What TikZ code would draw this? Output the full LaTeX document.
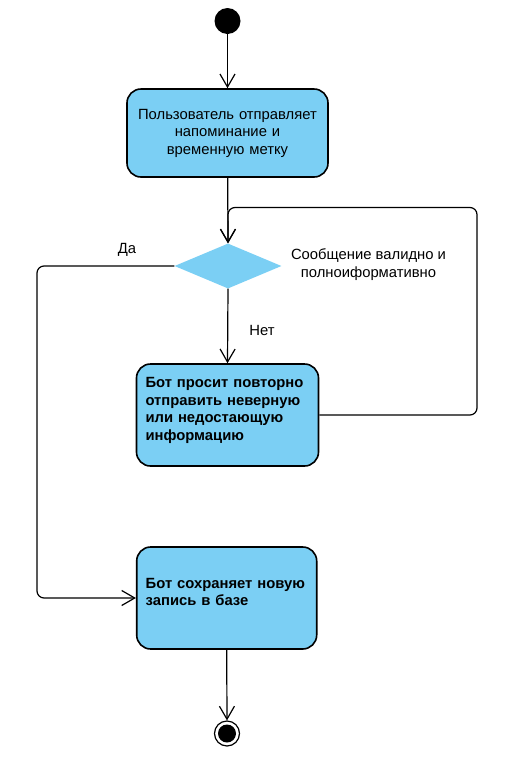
\documentclass[tikz,border=0pt]{standalone}
\usepackage{fontspec}
\setmainfont{Liberation Sans}
\usepackage{tikz}
\usetikzlibrary{calc,arrows.meta,shapes.geometric}
\definecolor{actblue}{HTML}{7BCFF4}

\begin{document}
\begin{tikzpicture}[x=1pt,y=-1pt,
	    txt/.style={font=\fontsize{14.8}{17.5}\selectfont},
	    act/.style={txt,draw,line width=1.6pt,fill=actblue,rounded corners=14pt},
	    flow/.style={line width=1.2pt,-{Straight Barb[length=13pt,width=15pt]}}]
	    \useasboundingbox (0,0) rectangle (504,764);
	    \node[circle,fill=black,minimum size=26pt,inner sep=0pt] (start) at (227.5,21) {}; % initial state
	    \node[act,minimum width=201pt,minimum height=88pt,text width=194pt,inner xsep=3pt,align=center] (send) at (227.5,133) {Пользователь отправляет\\напоминание и\\временную метку};
	    \node[diamond,fill=actblue,minimum width=107pt,minimum height=45pt,inner sep=0pt] (check) at (228,266) {}; % decision
	    \node[act,font=\fontsize{14.8}{17.5}\selectfont\bfseries,minimum width=182pt,minimum height=102pt,text width=164pt,inner xsep=9pt,align=left] (ask) at (227.5,415) {Бот просит повторно\\отправить неверную\\или недостающую\\информацию\\[-4.9pt]\mbox{}};
	    \node[act,font=\fontsize{14.8}{17.5}\selectfont\bfseries,minimum width=180pt,minimum height=102pt,text width=162pt,inner xsep=9pt,align=left] (save) at (226.7,598) {Бот сохраняет новую\\запись в базе\\[-5.5pt]\mbox{}};
	    \node[circle,draw,line width=1.2pt,minimum size=25pt,inner sep=0pt] (stop) at (227,733.5) {}; % final state
	    \node[circle,fill=black,minimum size=18pt,inner sep=0pt] (stopdot) at (stop) {};
	    % guard labels
	    \node[txt] (yes) at (127,250) {Да};
	    \node[txt] (no) at (262,330) {Нет};
	    \node[txt,align=center] (cond) at (368.5,264.5) {Сообщение валидно и\\полноиформативно};
	    % flows
	    \coordinate (loopR) at (477,207.5);
	    \coordinate (yesL) at (37,266);
	    \draw[flow] (start) -- (send);
	    \draw[flow] (send) -- (check.north);
	    \draw[flow] (check.south) -- (ask.north);
	    \draw[flow,rounded corners=7pt] (ask.east) -| (loopR) -| (check.north); % retry loop
	    \draw[flow,rounded corners=7pt] (check.west) -- (yesL) |- (save.west);
	    \draw[flow] (save.south) -- (stop.north);
	    \end{tikzpicture}
\end{document}
